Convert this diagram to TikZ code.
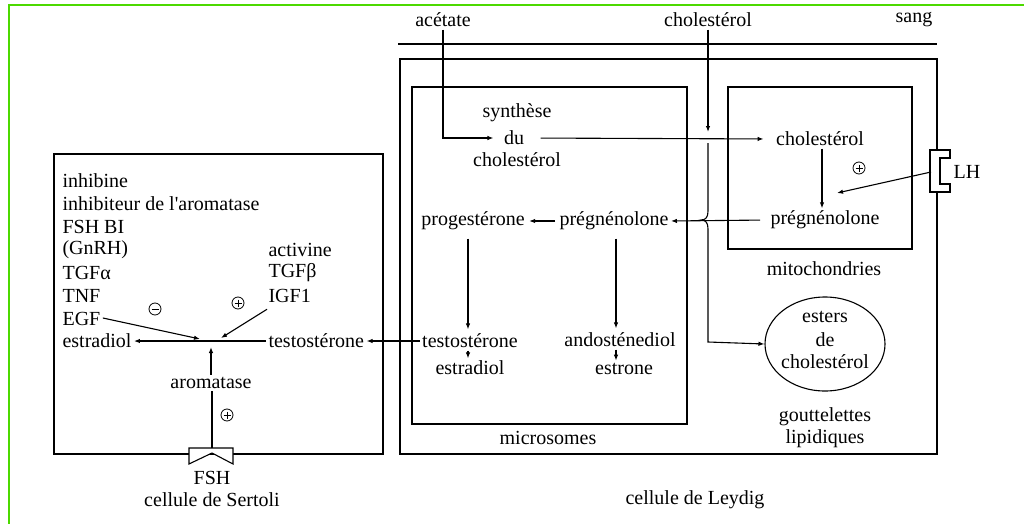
\documentclass[tikz,border=0pt]{standalone}
\usepackage{fontspec}
\setmainfont{Liberation Serif}
\usetikzlibrary{arrows.meta,shapes.geometric,calc}
\begin{document}
\begin{tikzpicture}[x=1pt,y=-1pt,
  txt/.style={inner sep=2pt, font=\fontsize{20}{23}\selectfont},
  arr/.style={-{Latex[length=6pt,width=4.5pt]}},
  line width=1.1pt,
  psign/.pic={\draw[line width=0.8pt] (0,0) circle[radius=6pt];
              \draw[line width=0.8pt] (-3.5,0) -- (3.5,0) (0,-3.5) -- (0,3.5);},
  msign/.pic={\draw[line width=0.8pt] (0,0) circle[radius=6pt];
              \draw[line width=0.8pt] (-3.5,0) -- (3.5,0);}]
\useasboundingbox (0,0) rectangle (1024,524);
\draw[green!75!black!60!lime, line width=2pt] (9,524) -- (9,5) -- (1024,5);

% ---------- boxes ----------
\draw (54,154) rectangle (383,454);   % Sertoli
\draw (400,59) rectangle (937,454);   % Leydig
\draw (412,87) rectangle (687,424);   % microsomes
\draw (728,87) rectangle (912,249);   % mitochondries
\draw (398,44) -- (937,44);           % sang
\node[draw, ellipse, minimum width=120pt, minimum height=94pt, inner sep=0pt] (ell) at (825,344) {};

% receptors
\draw[fill=white] (189,464) -- (189,448) -- (233,448) -- (233,464) -- (212,453) -- cycle;
\coordinate (fshr) at (212,448);
\draw[fill=white] (930,150) -- (950,150) -- (950,158) -- (940,158) -- (940,184) -- (950,184) -- (950,192) -- (930,192) -- cycle;
\coordinate (lhr) at (931,172);

% ---------- texts: Leydig ----------
\node[txt] (acet) at (443,20) {acétate};
\node[txt] (cholB) at (708,20) {cholestérol};
\node[txt] (sang) at (914,20) {sang};
\node[txt] (synth) at (517,113) {synthèse};
\node[txt] (du) at (514,138) {du};
\node[txt] (cholS) at (517,160) {cholestérol};
\node[txt] (prog) at (473,221) {progestérone};
\node[txt] (pregm) at (614,221) {prégnénolone};
\node[txt] (cholM) at (820,139) {cholestérol};
\node[txt] (pregM) at (825,220) {prégnénolone};
\node[txt] (mito) at (824,269) {mitochondries};
\node[txt] (testom) at (470,341) {testostérone};
\node[txt] (estrm) at (470,368) {estradiol};
\node[txt] (andos) at (620,340) {andosténediol};
\node[txt] (estrone) at (624,369) {estrone};
\node[txt] (micro) at (548,438) {microsomes};
\node[txt] (esters) at (825,317) {esters};
\node[txt] (de) at (825,340) {de};
\node[txt] (cholE) at (825,362) {cholestérol};
\node[txt] (goutt) at (825,417) {gouttelettes};
\node[txt] (lipid) at (825,439) {lipidiques};
\node[txt] (leydig) at (695,500) {cellule de Leydig};
\node[txt, anchor=west] (lh) at (951,172) {LH};

% ---------- texts: Sertoli ----------
\node[txt, anchor=west] (inh) at (60,181) {inhibine};
\node[txt, anchor=west] (inha) at (60,204) {inhibiteur de l\textquotesingle aromatase};
\node[txt, anchor=west] (fshbi) at (60,227) {FSH BI};
\node[txt, anchor=west] (gnrh) at (60,250) {(GnRH)};
\node[txt, anchor=west] (tgfa) at (60,273) {TGFα};
\node[txt, anchor=west] (tnf) at (60,296) {TNF};
\node[txt, anchor=west] (egf) at (60,319) {EGF};
\node[txt, anchor=west] (estrS) at (60,341) {estradiol};
\node[txt, anchor=west] (activ) at (266,250) {activine};
\node[txt, anchor=west] (tgfb) at (266,273) {TGFβ};
\node[txt, anchor=west] (igf) at (266,296) {IGF1};
\node[txt, anchor=west] (testoS) at (266,341) {testostérone};
\node[txt] (arom) at (211,383) {aromatase};
\node[txt] (fsh) at (212,478) {FSH};
\node[txt] (sertoli) at (212,500) {cellule de Sertoli};

% signs
\pic at (155,309) {msign};
\pic at (238,303) {psign};
\pic at (227,415) {psign};
\pic at (859,168) {psign};

% ---------- connectors: Sertoli ----------
\draw[arr] (testoS.west) -- (estrS.east);
\coordinate (jl) at (200,339);
\coordinate (jr) at (221,338);
\coordinate (ja) at (211,347);
\draw[arr] ([yshift=1pt]egf.east) -- (jl);
\draw[arr] ([xshift=1pt,yshift=-4pt]igf.south west) -- (jr);
\draw[arr] (arom.north) -- (ja);
\draw ([xshift=1pt]arom.south) -- (fshr);

% ---------- connectors: Leydig ----------
\draw[arr, shorten >=8pt] (acet.south) |- (du.west);
\draw[arr, shorten <=14pt, shorten >=10pt] (du.east) -- (cholM.west);
\coordinate (cb) at (708,132);
\draw[arr] (cholB.south) -- (cb);
\draw[arr] (708,143) -- (708,211) .. controls (708,217) and (706,220) .. (701,220)
      .. controls (706,220) and (708,223) .. (708,229) -- (708,342) -- (ell.west);
\draw[arr, shorten <=8pt] (pregM.west) -- (pregm.east);
\draw[arr, shorten <=2pt, shorten >=2pt] (pregm.west) -- (prog.east);
\draw[arr] ([xshift=2pt]cholM.south) -- ([xshift=-3pt]pregM.north);
\coordinate (lht) at (837,193);
\draw[arr] (lhr) -- (lht);
\draw[arr, shorten <=6pt, shorten >=2pt] ([xshift=-5pt]prog.south) -- ([xshift=-2pt]testom.north);
\draw[arr] ([xshift=-2pt]testom.south) -- ([xshift=-2pt]estrm.north);
\draw[arr, shorten <=6pt, shorten >=2pt] ([xshift=2pt]pregm.south) -- ([xshift=-4pt]andos.north);
\draw[arr] ([xshift=-4pt]andos.south) -- ([xshift=-8pt]estrone.north);
\draw[arr] (testom.west) -- (testoS.east);
\end{tikzpicture}
\end{document}
